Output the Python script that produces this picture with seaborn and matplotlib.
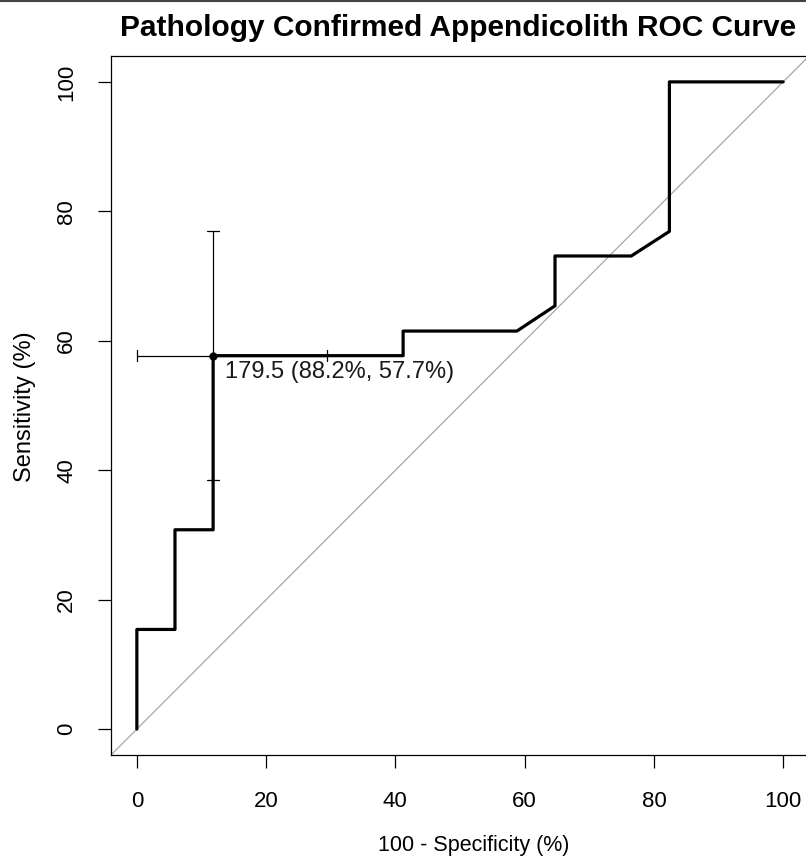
import matplotlib
matplotlib.use("Agg")
import matplotlib.pyplot as plt
import seaborn as sns
import pandas as pd
from matplotlib.lines import Line2D

# ROC curve data (100 - specificity, sensitivity)
fpr = [0, 0, 5.9, 5.9, 11.8, 11.8, 41.2, 41.2, 58.8, 64.7, 64.7, 76.5, 82.4, 82.4, 100]
sens = [0, 15.4, 15.4, 30.8, 30.8, 57.7, 57.7, 61.5, 61.5, 65.4, 73.1, 73.1, 76.9, 100, 100]

# best threshold and confidence intervals
best_x = [11.8]
best_y = [57.7]
best_label = "179.5 (88.2%, 57.7%)"
ci_x = [0.0, 29.4]      # 100 - specificity CI
ci_y = [38.5, 76.9]     # sensitivity CI

ticks = [0, 20, 40, 60, 80, 100]

sns.set_style("white")
plt.rcParams['font.family'] = ['Liberation Sans', 'DejaVu Sans']
plt.rcParams['text.color'] = 'black'
plt.rcParams['axes.labelcolor'] = 'black'
plt.rcParams['xtick.color'] = 'black'
plt.rcParams['ytick.color'] = 'black'

fig = plt.figure(figsize=(8.06, 8.58), dpi=100)
ax = fig.add_axes([111/806, 1 - 755/858, (809 - 111)/806, (755 - 56)/858])

df = pd.DataFrame({"fpr": fpr, "sens": sens})

# diagonal reference
ax.plot([-10, 110], [-10, 110], color="#a6a6a6", lw=0.9, zorder=1)

sns.lineplot(data=df, x="fpr", y="sens", sort=False, estimator=None,
             color="black", lw=2.3, ax=ax, zorder=3)

# CI bars
ax.plot(ci_x, [best_y[0]] * 2, color="black", lw=0.9, zorder=2)
ax.plot([best_x[0]] * 2, ci_y, color="black", lw=0.9, zorder=2)
for xv in ci_x:
    ax.plot([xv, xv], [best_y[0] - 0.9, best_y[0] + 0.9], color="black", lw=0.9)
for yv in ci_y:
    ax.plot([best_x[0] - 0.9, best_x[0] + 0.9], [yv, yv], color="black", lw=0.9)

sns.scatterplot(x=best_x, y=best_y, color="black", s=30, ax=ax, zorder=4, edgecolor="black")
ax.text(best_x[0] + 1.8, best_y[0] - 2.5, best_label, ha="left", va="center",
        fontsize=17, color="#1a1a1a")

ax.set_xlim(-4, 104)
ax.set_ylim(-4, 104)
ax.set_xticks(ticks)
ax.set_yticks(ticks)
ax.set_xticklabels([str(t) for t in ticks], fontsize=16)
ax.set_yticklabels([str(t) for t in ticks], fontsize=16, rotation=90, va="center")
ax.tick_params(axis="both", direction="out", length=9.4, width=0.9, color="black",
               bottom=True, left=True)
ax.tick_params(axis="x", pad=16.5)
ax.tick_params(axis="y", pad=15)
ax.set_xlabel("100 - Specificity (%)", fontsize=15.5)
ax.set_ylabel("Sensitivity (%)", fontsize=17)
ax.xaxis.set_label_coords(0.5 + (474 - 460) / 698, (755 - 845) / 699)
ax.xaxis.label.set_va("center")
ax.yaxis.set_label_coords((25 - 111) / 698, (755 - 407) / 699)
ax.yaxis.label.set_va("center")
ax.yaxis.label.set_ha("center")
for s in ax.spines.values():
    s.set_color("black")
    s.set_linewidth(0.9)
    s.set_visible(True)

fig.text(458.5 / 806, 1 - 28/858, "Pathology Confirmed Appendicolith ROC Curve",
         ha="center", va="center", fontsize=21.5, fontweight="bold")
fig.add_artist(Line2D([0, 1], [0.999, 0.999], color="#444444", lw=1.5, transform=fig.transFigure))

fig.savefig("out.png", dpi=100)
